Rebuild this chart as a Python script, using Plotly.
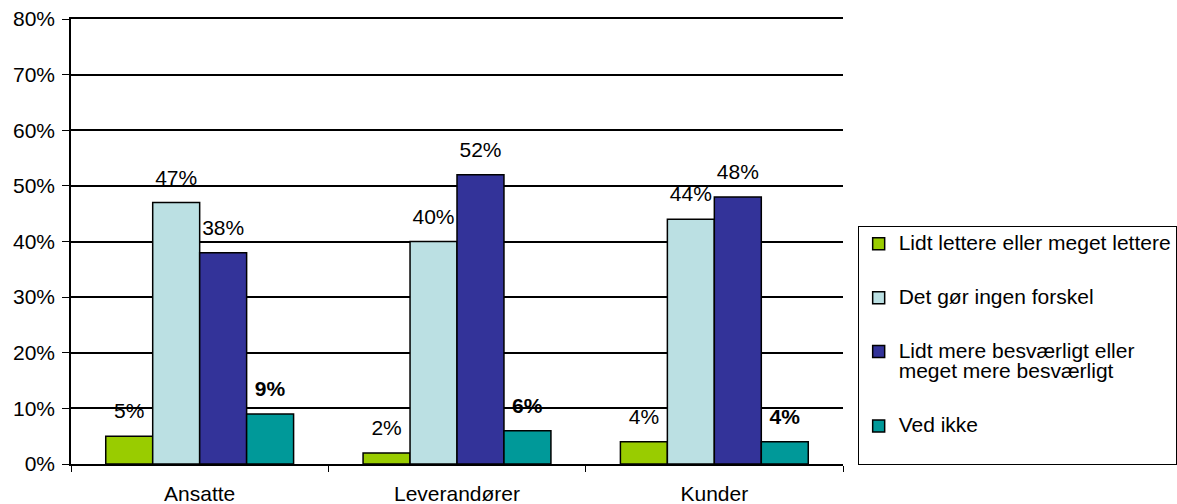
import plotly.graph_objects as go

categories = ["Ansatte", "Leverandører", "Kunder"]
series_names = [
    "Lidt lettere eller meget lettere",
    "Det gør ingen forskel",
    "Lidt mere besværligt eller<br>meget mere besværligt",
    "Ved ikke",
]
series_values = [
    [0.05, 0.02, 0.04],
    [0.47, 0.40, 0.44],
    [0.38, 0.52, 0.48],
    [0.09, 0.06, 0.04],
]
series_colors = ["#99CC00", "#BBE0E3", "#333399", "#009999"]
bold_labels = [False, False, False, True]

FONT = "Liberation Sans, Arial, sans-serif"
FS = 21


def big(s):
    return "<br>".join(f"<span style='font-size:{FS}px'>{p}</span>" for p in s.split("<br>"))


fig = go.Figure()
for i, (name, vals, col, bold) in enumerate(zip(series_names, series_values, series_colors, bold_labels)):
    lab = "<b>%{y:.0%}</b>" if bold else "%{y:.0%}"
    tmpl = f"<span style='font-size:{FS}px'>{lab}</span><br> "
    legend_name = big(name)
    if i == len(series_names) - 1:
        legend_name += "<br> "
    fig.add_trace(go.Bar(
        x=categories, y=vals, name=legend_name,
        marker=dict(color=col, line=dict(color="black", width=1.5)),
        texttemplate=tmpl, textposition="outside", cliponaxis=False,
        textfont=dict(family=FONT, size=10, color="black"),
        legendgroup=f"g{i}", hoverinfo="skip",
    ))

fig.update_layout(
    width=1177, height=504,
    margin=dict(l=71, r=334, t=19, b=40, autoexpand=False),
    paper_bgcolor="white", plot_bgcolor="white",
    barmode="group", bargap=0.27, bargroupgap=0,
    font=dict(family=FONT, size=FS, color="black"),
    showlegend=True,
    legend=dict(
        x=1.019, xanchor="left", y=0.535, yanchor="top",
        bordercolor="black", borderwidth=1, bgcolor="white",
        font=dict(family=FONT, size=16, color="black"),
        traceorder="grouped", tracegroupgap=30, valign="top",
        itemwidth=30,
    ),
)
fig.update_xaxes(
    showline=True, linecolor="black", linewidth=1.5, mirror=True,
    ticks="outside", tickson="boundaries", ticklen=6, tickcolor="black",
    showgrid=False, tickfont=dict(family=FONT, size=FS),
    ticklabelstandoff=10, automargin=False,
)
fig.update_yaxes(
    range=[0, 0.8], dtick=0.1, tickformat=".0%",
    showline=True, linecolor="black", linewidth=1.5,
    ticks="outside", ticklen=7, tickcolor="black",
    showgrid=True, gridcolor="black", gridwidth=1.5,
    zeroline=False, tickfont=dict(family=FONT, size=FS), automargin=False,
    ticklabelstandoff=3,
)

fig.write_html("out.html", config={"displayModeBar": False},
               post_script="document.body.style.margin='0';")
